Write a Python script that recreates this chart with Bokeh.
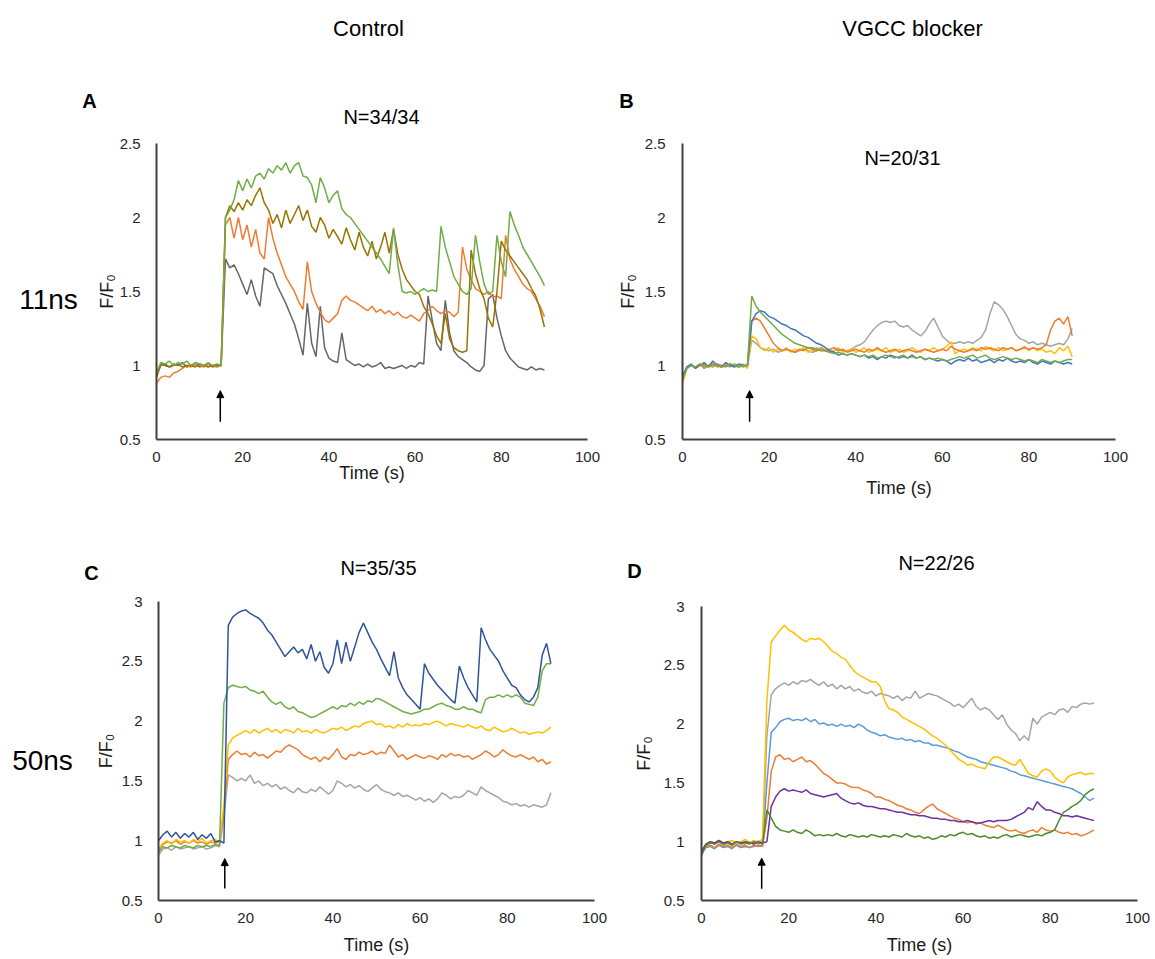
from bokeh.plotting import figure
from bokeh.models import (Range1d, FixedTicker, NumeralTickFormatter, Label,
                          Arrow, NormalHead, LinearAxis)
from bokeh.embed import file_html
from bokeh.resources import INLINE

FONT = "Liberation Sans"

# ---------------- data ----------------
T = [0, 1, 2, 3, 4, 5, 6, 7, 8, 9, 10, 11, 12, 13, 14, 15, 16, 17, 18, 19,
     20, 21, 22, 23, 24, 25, 26, 27, 28, 29, 30, 31, 32, 33, 34, 35, 36, 37, 38, 39,
     40, 41, 42, 43, 44, 45, 46, 47, 48, 49, 50, 51, 52, 53, 54, 55, 56, 57, 58, 59,
     60, 61, 62, 63, 64, 65, 66, 67, 68, 69, 70, 71, 72, 73, 74, 75, 76, 77, 78, 79,
     80, 81, 82, 83, 84, 85, 86, 87, 88, 89, 90]

X_TICKS = [0, 20, 40, 60, 80, 100]
Y_TICKS_TOP = [0.5, 1, 1.5, 2, 2.5]
Y_TICKS_BOTTOM = [0.5, 1, 1.5, 2, 2.5, 3]

# Panel A (11ns, control)
A_GRAY = [0.92, 1.01, 1.00, 0.99, 1.01, 1.00, 1.02, 0.99, 1.00, 1.01,
          0.99, 1.00, 1.01, 0.99, 1.00, 1.00, 1.72, 1.66, 1.68, 1.62,
          1.55, 1.48, 1.58, 1.47, 1.40, 1.66, 1.64, 1.62, 1.54, 1.48,
          1.42, 1.35, 1.28, 1.18, 1.07, 1.42, 1.15, 1.06, 1.40, 1.12,
          1.05, 1.03, 1.02, 1.22, 1.04, 1.02, 1.00, 1.01, 0.99, 1.01,
          0.99, 1.00, 1.02, 0.98, 0.99, 0.98, 0.99, 1.00, 0.98, 1.00,
          0.99, 1.02, 1.01, 1.47, 1.30, 1.15, 1.10, 1.44, 1.22, 1.10,
          1.06, 1.04, 1.02, 0.99, 0.97, 0.96, 1.00, 1.45, 1.48, 1.32,
          1.20, 1.10, 1.05, 1.02, 0.99, 0.98, 0.97, 0.99, 0.97, 0.98,
          0.97]
A_GREEN = [0.95, 1.02, 1.01, 1.03, 1.00, 1.02, 1.01, 1.03, 1.00, 1.02,
           1.01, 1.00, 1.02, 1.00, 1.01, 1.00, 2.00, 2.05, 2.12, 2.25,
           2.18, 2.26, 2.20, 2.28, 2.30, 2.26, 2.33, 2.30, 2.35, 2.32,
           2.37, 2.30, 2.35, 2.37, 2.28, 2.27, 2.22, 2.10, 2.27, 2.20,
           2.10, 2.15, 2.18, 2.06, 2.02, 2.00, 1.96, 1.92, 1.88, 1.84,
           1.80, 1.76, 1.72, 1.67, 1.62, 1.93, 1.68, 1.50, 1.49, 1.50,
           1.48, 1.50, 1.52, 1.50, 1.51, 1.50, 1.94, 1.80, 1.70, 1.60,
           1.55, 1.50, 1.48, 1.52, 1.88, 1.70, 1.55, 1.48, 1.50, 1.88,
           1.70, 1.60, 2.04, 1.95, 1.88, 1.80, 1.75, 1.70, 1.65, 1.60,
           1.54]
A_ORANGE = [0.88, 0.92, 0.93, 0.92, 0.95, 0.96, 0.98, 1.00, 0.99, 1.01,
            1.00, 0.99, 1.01, 1.00, 0.99, 1.00, 1.95, 2.00, 1.86, 2.00,
            1.85, 1.95, 1.80, 1.92, 1.76, 1.72, 2.00, 1.86, 1.76, 1.68,
            1.60, 1.55, 1.50, 1.43, 1.38, 1.70, 1.50, 1.42, 1.36, 1.31,
            1.29, 1.32, 1.35, 1.44, 1.47, 1.44, 1.43, 1.41, 1.39, 1.37,
            1.40, 1.36, 1.38, 1.35, 1.37, 1.34, 1.36, 1.33, 1.32, 1.34,
            1.32, 1.30, 1.35, 1.37, 1.40, 1.37, 1.35, 1.37, 1.36, 1.33,
            1.36, 1.80, 1.65, 1.58, 1.52, 1.50, 1.48, 1.50, 1.46, 1.47,
            1.45, 1.88, 1.72, 1.65, 1.60, 1.55, 1.52, 1.50, 1.45, 1.40,
            1.33]
A_OLIVE = [0.93, 1.00, 1.01, 0.99, 1.00, 1.01, 0.99, 1.00, 1.00, 0.99,
           1.01, 1.00, 0.99, 1.00, 1.00, 1.00, 2.00, 2.08, 2.04, 2.10,
           2.05, 2.12, 2.08, 2.15, 2.20, 2.10, 2.05, 1.96, 2.02, 1.93,
           2.05, 1.96, 2.02, 2.08, 1.98, 2.05, 1.94, 1.90, 2.00, 1.95,
           1.86, 1.92, 1.87, 1.82, 1.93, 1.85, 1.78, 1.90, 1.80, 1.74,
           1.84, 1.72, 1.80, 1.90, 1.76, 1.92, 1.75, 1.65, 1.58, 1.54,
           1.50, 1.48, 1.40, 1.35, 1.28, 1.20, 1.15, 1.35, 1.18, 1.12,
           1.10, 1.09, 1.10, 1.78, 1.62, 1.52, 1.45, 1.32, 1.26, 1.50,
           1.84, 1.78, 1.74, 1.70, 1.66, 1.62, 1.58, 1.52, 1.47, 1.38,
           1.26]

# Panel B (11ns, VGCC blocker)
B_BLUE = [0.93, 0.99, 1.01, 0.98, 1.00, 1.02, 0.99, 1.03, 1.00, 0.99,
          1.02, 1.00, 0.99, 1.01, 1.00, 1.00, 1.30, 1.35, 1.37, 1.36,
          1.33, 1.32, 1.30, 1.28, 1.27, 1.25, 1.24, 1.22, 1.20, 1.19,
          1.17, 1.15, 1.14, 1.12, 1.10, 1.09, 1.07, 1.08, 1.07, 1.08,
          1.07, 1.06, 1.07, 1.05, 1.06, 1.04, 1.06, 1.05, 1.07, 1.06,
          1.05, 1.06, 1.05, 1.07, 1.05, 1.06, 1.04, 1.05, 1.04, 1.03,
          1.04, 1.03, 1.01, 1.03, 1.04, 1.03, 1.05, 1.03, 1.04, 1.02,
          1.03, 1.04, 1.02, 1.04, 1.03, 1.05, 1.03, 1.02, 1.03, 1.02,
          1.04, 1.02, 1.01, 1.03, 1.02, 1.01, 1.03, 1.02, 1.01, 1.02,
          1.01]
B_ORANGE = [0.90, 0.98, 1.00, 0.99, 1.01, 0.98, 1.00, 0.99, 1.01, 1.00,
            0.99, 1.01, 1.00, 0.99, 1.00, 1.00, 1.30, 1.32, 1.30, 1.25,
            1.20, 1.15, 1.12, 1.10, 1.11, 1.10, 1.09, 1.11, 1.10, 1.12,
            1.11, 1.10, 1.12, 1.10, 1.11, 1.12, 1.10, 1.11, 1.09, 1.10,
            1.11, 1.10, 1.09, 1.11, 1.10, 1.12, 1.10, 1.09, 1.10, 1.11,
            1.09, 1.10, 1.11, 1.10, 1.09, 1.10, 1.11, 1.10, 1.09, 1.10,
            1.11, 1.10, 1.13, 1.11, 1.10, 1.09, 1.10, 1.11, 1.10, 1.12,
            1.11, 1.12, 1.11, 1.10, 1.12, 1.11, 1.12, 1.10, 1.11, 1.12,
            1.11, 1.12, 1.11, 1.12, 1.14, 1.24, 1.30, 1.32, 1.28, 1.33,
            1.20]
B_GRAY = [0.92, 0.99, 1.00, 0.98, 1.01, 0.99, 1.00, 1.01, 0.99, 1.00,
          1.00, 0.99, 1.01, 1.00, 0.99, 1.00, 1.17, 1.15, 1.12, 1.11,
          1.10, 1.11, 1.09, 1.10, 1.11, 1.10, 1.09, 1.10, 1.11, 1.10,
          1.09, 1.10, 1.11, 1.10, 1.09, 1.10, 1.11, 1.10, 1.10, 1.11,
          1.13, 1.14, 1.16, 1.20, 1.24, 1.27, 1.29, 1.30, 1.29, 1.30,
          1.27, 1.26, 1.27, 1.24, 1.22, 1.20, 1.23, 1.28, 1.32, 1.26,
          1.20, 1.17, 1.15, 1.15, 1.16, 1.15, 1.16, 1.15, 1.17, 1.19,
          1.24, 1.35, 1.43, 1.41, 1.38, 1.33, 1.27, 1.21, 1.18, 1.17,
          1.15, 1.16, 1.14, 1.15, 1.14, 1.13, 1.14, 1.15, 1.14, 1.18,
          1.25]
B_YELLOW = [0.88, 0.98, 1.00, 0.99, 1.00, 1.01, 0.99, 1.00, 1.01, 0.99,
            1.00, 1.01, 0.99, 1.00, 1.01, 0.98, 1.20, 1.18, 1.12, 1.10,
            1.12, 1.09, 1.11, 1.10, 1.12, 1.09, 1.11, 1.10, 1.12, 1.09,
            1.10, 1.12, 1.10, 1.11, 1.09, 1.10, 1.12, 1.09, 1.10, 1.11,
            1.09, 1.10, 1.12, 1.09, 1.10, 1.11, 1.10, 1.12, 1.09, 1.10,
            1.11, 1.09, 1.10, 1.12, 1.10, 1.09, 1.11, 1.10, 1.12, 1.10,
            1.11, 1.13, 1.16, 1.08, 1.10, 1.11, 1.10, 1.12, 1.11, 1.10,
            1.13, 1.11, 1.10, 1.12, 1.10, 1.11, 1.12, 1.10, 1.11, 1.13,
            1.10, 1.12, 1.10, 1.11, 1.09, 1.10, 1.08, 1.12, 1.10, 1.13,
            1.06]
B_GREEN = [0.90, 0.98, 1.00, 0.99, 1.01, 1.00, 0.99, 1.01, 1.00, 0.99,
           1.00, 1.01, 1.00, 0.99, 1.00, 1.00, 1.47, 1.40, 1.36, 1.33,
           1.30, 1.27, 1.24, 1.21, 1.19, 1.17, 1.15, 1.14, 1.13, 1.12,
           1.12, 1.11, 1.10, 1.10, 1.09, 1.08, 1.09, 1.08, 1.07, 1.08,
           1.07, 1.06, 1.07, 1.06, 1.07, 1.05, 1.06, 1.07, 1.06, 1.05,
           1.06, 1.07, 1.05, 1.06, 1.05, 1.06, 1.04, 1.05, 1.04, 1.05,
           1.04, 1.03, 1.04, 1.05, 1.06, 1.05, 1.06, 1.07, 1.05, 1.06,
           1.07, 1.05, 1.04, 1.05, 1.06, 1.05, 1.04, 1.05, 1.04, 1.03,
           1.04, 1.03, 1.02, 1.04, 1.03, 1.02, 1.03, 1.02, 1.03, 1.04,
           1.04]

# Panel C (50ns, control)
C_BLUE = [1.00, 1.05, 1.08, 1.03, 1.07, 1.02, 1.06, 1.03, 1.07, 1.01,
          1.05, 1.02, 1.06, 0.99, 1.00, 0.98, 2.80, 2.87, 2.90, 2.92,
          2.93, 2.90, 2.88, 2.86, 2.82, 2.76, 2.72, 2.66, 2.60, 2.54,
          2.58, 2.62, 2.57, 2.60, 2.52, 2.64, 2.50, 2.58, 2.45, 2.40,
          2.48, 2.68, 2.48, 2.66, 2.50, 2.62, 2.74, 2.82, 2.74, 2.66,
          2.60, 2.52, 2.45, 2.38, 2.58, 2.36, 2.28, 2.22, 2.18, 2.14,
          2.10, 2.48, 2.40, 2.35, 2.30, 2.26, 2.22, 2.18, 2.15, 2.46,
          2.36, 2.28, 2.22, 2.16, 2.78, 2.68, 2.60, 2.55, 2.50, 2.42,
          2.36, 2.30, 2.28, 2.22, 2.18, 2.16, 2.20, 2.28, 2.55, 2.65,
          2.48]
C_GREEN = [0.90, 0.95, 0.94, 0.96, 0.95, 0.94, 0.96, 0.95, 0.94, 0.96,
           0.95, 0.96, 0.95, 0.97, 0.96, 2.15, 2.28, 2.30, 2.29, 2.28,
           2.29, 2.26, 2.25, 2.23, 2.25, 2.20, 2.16, 2.14, 2.16, 2.12,
           2.10, 2.12, 2.08, 2.07, 2.05, 2.03, 2.04, 2.06, 2.08, 2.10,
           2.12, 2.10, 2.13, 2.12, 2.15, 2.13, 2.16, 2.14, 2.17, 2.16,
           2.19, 2.18, 2.16, 2.14, 2.12, 2.10, 2.08, 2.07, 2.06, 2.07,
           2.08, 2.10, 2.10, 2.12, 2.14, 2.15, 2.13, 2.12, 2.10, 2.10,
           2.12, 2.10, 2.10, 2.08, 2.07, 2.18, 2.20, 2.20, 2.22, 2.20,
           2.22, 2.20, 2.22, 2.20, 2.15, 2.14, 2.13, 2.20, 2.42, 2.48,
           2.48]
C_YELLOW = [0.93, 0.98, 1.00, 0.97, 1.01, 0.99, 1.00, 0.98, 1.01, 0.99,
            1.02, 0.98, 1.00, 1.01, 0.99, 1.30, 1.80, 1.86, 1.88, 1.90,
            1.92, 1.90, 1.93, 1.90, 1.92, 1.94, 1.91, 1.93, 1.90, 1.93,
            1.92, 1.90, 1.94, 1.91, 1.92, 1.90, 1.93, 1.91, 1.90, 1.92,
            1.94, 1.93, 1.95, 1.92, 1.94, 1.96, 1.95, 1.98, 1.99, 2.00,
            1.97, 1.98, 1.95, 1.96, 1.94, 1.97, 1.95, 1.98, 1.96, 1.97,
            1.96, 1.98, 1.97, 1.99, 2.00, 1.98, 1.96, 1.98, 1.97, 1.96,
            1.95, 1.97, 1.95, 1.94, 1.96, 1.93, 1.92, 1.95, 1.93, 1.91,
            1.92, 1.94, 1.92, 1.90, 1.91, 1.89, 1.90, 1.91, 1.90, 1.92,
            1.95]
C_ORANGE = [0.92, 0.97, 0.99, 0.98, 1.00, 0.97, 0.99, 0.98, 1.00, 0.98,
            0.99, 0.97, 0.99, 0.98, 0.99, 1.25, 1.68, 1.72, 1.75, 1.72,
            1.73, 1.70, 1.74, 1.71, 1.72, 1.69, 1.72, 1.75, 1.74, 1.78,
            1.80, 1.78, 1.76, 1.72, 1.70, 1.68, 1.70, 1.66, 1.70, 1.68,
            1.72, 1.77, 1.70, 1.68, 1.72, 1.71, 1.74, 1.72, 1.73, 1.75,
            1.72, 1.74, 1.73, 1.80, 1.75, 1.70, 1.72, 1.68, 1.70, 1.72,
            1.70, 1.69, 1.71, 1.70, 1.68, 1.72, 1.70, 1.73, 1.71, 1.72,
            1.70, 1.71, 1.68, 1.70, 1.72, 1.75, 1.73, 1.70, 1.72, 1.76,
            1.73, 1.71, 1.70, 1.72, 1.70, 1.68, 1.70, 1.66, 1.68, 1.64,
            1.66]
C_GRAY = [0.88, 0.93, 0.94, 0.92, 0.95, 0.93, 0.94, 0.95, 0.93, 0.94,
          0.95, 0.93, 0.94, 0.96, 0.95, 1.20, 1.55, 1.53, 1.50, 1.52,
          1.50, 1.55, 1.48, 1.50, 1.46, 1.48, 1.45, 1.47, 1.43, 1.45,
          1.42, 1.40, 1.44, 1.41, 1.40, 1.43, 1.41, 1.45, 1.42, 1.39,
          1.42, 1.50, 1.48, 1.45, 1.47, 1.44, 1.46, 1.43, 1.41, 1.44,
          1.47, 1.43, 1.41, 1.40, 1.38, 1.40, 1.37, 1.38, 1.36, 1.34,
          1.36, 1.33, 1.35, 1.32, 1.35, 1.40, 1.38, 1.35, 1.37, 1.36,
          1.38, 1.42, 1.40, 1.38, 1.45, 1.42, 1.40, 1.38, 1.36, 1.33,
          1.32, 1.30, 1.31, 1.29, 1.30, 1.28, 1.30, 1.29, 1.28, 1.30,
          1.40]

# Panel D (50ns, VGCC blocker)
D_YELLOW = [0.90, 0.98, 1.00, 0.99, 1.01, 0.98, 1.00, 1.01, 0.99, 1.00,
            1.02, 0.99, 1.01, 1.00, 1.02, 2.20, 2.70, 2.75, 2.80, 2.84,
            2.80, 2.78, 2.75, 2.72, 2.70, 2.73, 2.72, 2.73, 2.70, 2.66,
            2.62, 2.60, 2.57, 2.55, 2.50, 2.45, 2.42, 2.40, 2.38, 2.36,
            2.36, 2.32, 2.20, 2.13, 2.12, 2.10, 2.06, 2.04, 2.02, 2.00,
            1.98, 1.96, 1.93, 1.90, 1.88, 1.85, 1.82, 1.78, 1.74, 1.70,
            1.68, 1.65, 1.66, 1.64, 1.63, 1.62, 1.68, 1.72, 1.72, 1.70,
            1.68, 1.66, 1.65, 1.70, 1.64, 1.58, 1.56, 1.55, 1.60, 1.62,
            1.60, 1.55, 1.52, 1.50, 1.55, 1.57, 1.58, 1.59, 1.57, 1.58,
            1.58]
D_GRAY = [0.92, 0.97, 0.99, 0.98, 1.00, 0.97, 0.99, 0.98, 1.00, 0.99,
          0.98, 1.00, 0.99, 0.98, 1.00, 1.90, 2.25, 2.30, 2.33, 2.35,
          2.33, 2.36, 2.34, 2.37, 2.36, 2.38, 2.35, 2.33, 2.36, 2.32,
          2.34, 2.30, 2.33, 2.30, 2.32, 2.28, 2.30, 2.27, 2.26, 2.28,
          2.24, 2.26, 2.25, 2.24, 2.22, 2.24, 2.20, 2.23, 2.22, 2.28,
          2.22, 2.24, 2.26, 2.25, 2.24, 2.22, 2.20, 2.18, 2.15, 2.17,
          2.14, 2.18, 2.22, 2.15, 2.12, 2.14, 2.12, 2.08, 2.04, 2.08,
          2.00, 1.95, 1.92, 1.86, 1.90, 1.86, 2.05, 2.00, 2.06, 2.08,
          2.10, 2.08, 2.12, 2.13, 2.10, 2.15, 2.14, 2.17, 2.18, 2.17,
          2.18]
D_BLUE = [0.90, 0.95, 0.96, 0.94, 0.97, 0.95, 0.96, 0.94, 0.97, 0.95,
          0.96, 0.95, 0.97, 0.96, 0.97, 1.50, 1.93, 1.97, 2.02, 2.04,
          2.05, 2.03, 2.04, 2.03, 2.05, 2.02, 2.04, 2.00, 2.01, 1.99,
          2.00, 1.98, 2.00, 1.98, 1.99, 1.97, 2.00, 1.98, 1.95, 1.93,
          1.92, 1.90, 1.91, 1.89, 1.88, 1.87, 1.88, 1.86, 1.87, 1.85,
          1.86, 1.84, 1.84, 1.82, 1.82, 1.81, 1.80, 1.79, 1.77, 1.76,
          1.74, 1.72, 1.71, 1.70, 1.68, 1.67, 1.66, 1.65, 1.64, 1.63,
          1.62, 1.60, 1.59, 1.57, 1.56, 1.55, 1.54, 1.53, 1.52, 1.51,
          1.50, 1.49, 1.48, 1.47, 1.46, 1.45, 1.43, 1.41, 1.38, 1.35,
          1.37]
D_ORANGE = [0.90, 0.96, 0.97, 0.95, 0.98, 0.96, 0.97, 0.95, 0.98, 0.96,
            0.97, 0.95, 0.96, 0.97, 0.96, 1.20, 1.60, 1.72, 1.74, 1.70,
            1.71, 1.68, 1.70, 1.72, 1.68, 1.69, 1.66, 1.62, 1.58, 1.56,
            1.53, 1.50, 1.50, 1.49, 1.47, 1.46, 1.46, 1.44, 1.43, 1.41,
            1.38, 1.38, 1.36, 1.35, 1.33, 1.31, 1.30, 1.28, 1.27, 1.25,
            1.24, 1.27, 1.30, 1.32, 1.28, 1.26, 1.24, 1.22, 1.20, 1.19,
            1.17, 1.16, 1.17, 1.15, 1.16, 1.14, 1.13, 1.12, 1.14, 1.12,
            1.10, 1.09, 1.10, 1.08, 1.07, 1.09, 1.10, 1.08, 1.12, 1.10,
            1.09, 1.10, 1.08, 1.07, 1.08, 1.06, 1.07, 1.05, 1.06, 1.08,
            1.10]
D_PURPLE = [0.92, 0.98, 1.00, 0.99, 1.01, 0.99, 1.00, 0.98, 1.00, 0.99,
            1.00, 0.99, 0.98, 1.00, 0.99, 1.00, 1.30, 1.38, 1.43, 1.45,
            1.43, 1.44, 1.43, 1.42, 1.44, 1.41, 1.40, 1.39, 1.38, 1.39,
            1.40, 1.41, 1.37, 1.35, 1.33, 1.32, 1.33, 1.31, 1.30, 1.30,
            1.29, 1.28, 1.28, 1.27, 1.26, 1.25, 1.25, 1.24, 1.23, 1.23,
            1.22, 1.22, 1.21, 1.20, 1.20, 1.19, 1.19, 1.18, 1.18, 1.17,
            1.17, 1.18, 1.17, 1.16, 1.16, 1.17, 1.18, 1.17, 1.18, 1.18,
            1.18, 1.19, 1.21, 1.23, 1.25, 1.29, 1.27, 1.34, 1.30, 1.27,
            1.27, 1.25, 1.24, 1.22, 1.22, 1.21, 1.22, 1.21, 1.20, 1.19,
            1.18]
D_GREEN = [0.88, 0.97, 0.99, 0.98, 1.00, 0.98, 0.99, 0.97, 1.00, 0.98,
           0.99, 0.98, 1.00, 0.99, 0.98, 1.27, 1.20, 1.13, 1.10, 1.09,
           1.08, 1.10, 1.08, 1.07, 1.10, 1.08, 1.05, 1.06, 1.05, 1.06,
           1.05, 1.07, 1.05, 1.04, 1.06, 1.05, 1.04, 1.05, 1.04, 1.06,
           1.05, 1.04, 1.05, 1.04, 1.06, 1.05, 1.04, 1.07, 1.05, 1.04,
           1.05, 1.03, 1.04, 1.02, 1.03, 1.05, 1.04, 1.06, 1.05, 1.07,
           1.08, 1.06, 1.07, 1.05, 1.04, 1.05, 1.03, 1.04, 1.03, 1.05,
           1.06, 1.04, 1.05, 1.06, 1.05, 1.04, 1.05, 1.06, 1.05, 1.07,
           1.08, 1.10, 1.18, 1.25, 1.27, 1.30, 1.32, 1.35, 1.40, 1.43,
           1.45]

# stimulus arrows: (time, y_start, y_end)
ARROW_A = (14.8, 0.62, 0.83)
ARROW_B = (15.5, 0.62, 0.83)
ARROW_C = (15.2, 0.60, 0.85)
ARROW_D = (13.8, 0.60, 0.86)

# ---------------- layout (page pixels) ----------------
W, H = 1155, 959
# frame of each panel: (left, top, width, height, ymin, ymax)
FRAMES = {
    "A": (156, 143, 431, 296, 0.5, 2.5),
    "B": (682, 143, 433, 296, 0.5, 2.5),
    "C": (158, 601, 436, 299, 0.5, 3.0),
    "D": (701, 606, 436, 294, 0.5, 3.0),
}

p = figure(width=W, height=H, output_backend="svg", toolbar_location=None,
           x_range=Range1d(0, W), y_range=Range1d(H, 0),
           x_axis_type=None, y_axis_type=None, min_border=0)
p.title.visible = False
p.outline_line_color = None
p.background_fill_color = "white"
p.border_fill_color = "white"

for name, (L, Tp, FW, FH, y0, y1) in FRAMES.items():
    k = (y1 - y0) / FH
    p.extra_x_ranges["x" + name] = Range1d((0 - L) / FW * 100.0, (W - L) / FW * 100.0)
    p.extra_y_ranges["y" + name] = Range1d(y0 + (Tp + FH - H) * k, y0 + (Tp + FH) * k)

TICK_COLOR = "#262626"


def style_axis(ax):
    ax.axis_line_color = "#404040"
    ax.axis_line_width = 2
    ax.major_tick_line_color = None
    ax.minor_tick_line_color = None
    ax.major_tick_out = 0
    ax.major_tick_in = 0
    ax.minor_tick_out = 0
    ax.minor_tick_in = 0
    ax.major_label_text_font = FONT
    ax.major_label_text_font_size = "15px"
    ax.major_label_text_color = TICK_COLOR
    ax.axis_label_text_font = FONT
    ax.axis_label_text_font_size = "18px"
    ax.axis_label_text_font_style = "normal"
    ax.axis_label_text_color = "#1a1a1a"


def add_axes(name, yticks, ylab_standoff, xlab_standoff, ylabel_std):
    y0, y1 = FRAMES[name][4], FRAMES[name][5]
    xa = LinearAxis(x_range_name="x" + name, y_range_name="y" + name,
                    fixed_location=y0, bounds=(0, 100),
                    ticker=FixedTicker(ticks=X_TICKS),
                    axis_label="Time (s)")
    style_axis(xa)
    xa.major_label_standoff = 12
    xa.axis_label_standoff = xlab_standoff
    p.add_layout(xa, "below")
    ya = LinearAxis(x_range_name="x" + name, y_range_name="y" + name,
                    fixed_location=0, bounds=(y0, y1),
                    ticker=FixedTicker(ticks=yticks),
                    formatter=NumeralTickFormatter(format="0.[0]"),
                    axis_label="F/F\u2080")
    style_axis(ya)
    ya.major_label_standoff = ylabel_std
    ya.axis_label_standoff = ylab_standoff
    p.add_layout(ya, "left")


def add_lines(name, series):
    for ys, color in series:
        p.line(T, ys, line_color=color, line_width=1.5,
               x_range_name="x" + name, y_range_name="y" + name)


def add_arrow(name, spec):
    t, ya, yb = spec
    p.add_layout(Arrow(x_start=t, y_start=ya, x_end=t, y_end=yb,
                       x_range_name="x" + name, y_range_name="y" + name,
                       line_color="black", line_width=1.5,
                       end=NormalHead(size=7, fill_color="black",
                                      line_color="black", line_width=1)))


def add_text(gx, gy, text, size, bold=False):
    p.add_layout(Label(x=gx, y=gy, text=text, text_align="center",
                       text_baseline="middle", text_font=FONT,
                       text_font_size=size,
                       text_font_style="bold" if bold else "normal",
                       text_color="black"))


add_axes("A", Y_TICKS_TOP, 0, -2, 16)
add_axes("B", Y_TICKS_TOP, 4, 13, 17)
add_axes("C", Y_TICKS_BOTTOM, 3, 9, 16)
add_axes("D", Y_TICKS_BOTTOM, 7, 9, 17)

add_lines("A", [(A_GRAY, "#666666"), (A_ORANGE, "#ED7D31"),
                (A_OLIVE, "#997300"), (A_GREEN, "#70AD47")])
add_lines("B", [(B_GRAY, "#A5A5A5"), (B_YELLOW, "#FFC000"),
                (B_ORANGE, "#ED7D31"), (B_BLUE, "#4472C4"),
                (B_GREEN, "#70AD47")])
add_lines("C", [(C_GRAY, "#A5A5A5"), (C_ORANGE, "#ED7D31"),
                (C_YELLOW, "#FFC000"), (C_GREEN, "#70AD47"),
                (C_BLUE, "#2F5597")])
add_lines("D", [(D_GRAY, "#A5A5A5"), (D_BLUE, "#5B9BD5"),
                (D_YELLOW, "#FFC000"), (D_ORANGE, "#ED7D31"),
                (D_PURPLE, "#7030A0"), (D_GREEN, "#4B8B2B")])

add_arrow("A", ARROW_A)
add_arrow("B", ARROW_B)
add_arrow("C", ARROW_C)
add_arrow("D", ARROW_D)

add_text(368, 28, "Control", "22px")
add_text(912, 28, "VGCC blocker", "22px")
add_text(89, 100, "A", "20px", bold=True)
add_text(381, 116, "N=34/34", "20px")
add_text(48, 299, "11ns", "28px")
add_text(626, 100, "B", "20px", bold=True)
add_text(902, 157, "N=20/31", "20px")
add_text(91, 572, "C", "20px", bold=True)
add_text(378, 567, "N=35/35", "20px")
add_text(42, 760, "50ns", "28px")
add_text(634, 570, "D", "20px", bold=True)
add_text(936, 562, "N=22/26", "20px")

open("out.html", "w").write(file_html(p, INLINE))
